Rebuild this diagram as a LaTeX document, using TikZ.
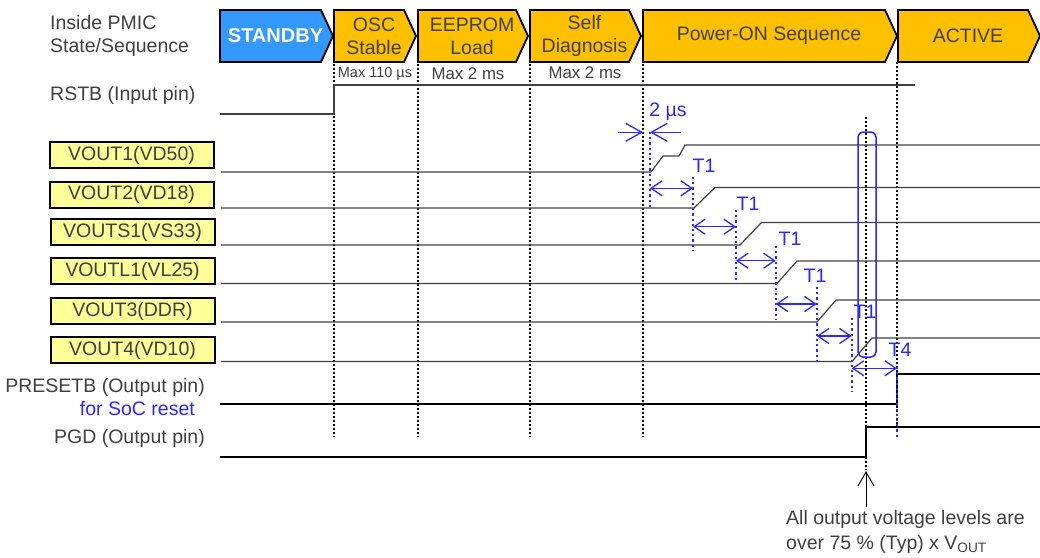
\documentclass[tikz,border=0pt]{standalone}
\usepackage{fontspec}
\setmainfont{Liberation Sans}
\usetikzlibrary{arrows.meta}
\definecolor{stbyblue}{RGB}{51,153,255}
\definecolor{seqorange}{RGB}{255,192,0}
\definecolor{railyellow}{RGB}{255,255,153}
\definecolor{txtgray}{RGB}{64,64,64}
\definecolor{tblue}{RGB}{40,40,255}
\tikzset{
  phase/.style={draw=black,line width=1.8pt,line join=miter},
  lbl/.style={font=\fontsize{19.5}{23}\selectfont,text=txtgray,inner sep=0pt},
  railbox/.style={lbl,draw=black,line width=2pt,fill=railyellow,minimum width=164pt,minimum height=26pt},
  sig/.style={txtgray,line width=1.2pt},
  boldsig/.style={black,line width=2.5pt},
  kdot/.style={black,line width=1.8pt,dash pattern=on 1.8pt off 2.2pt},
  bdot/.style={tblue,line width=2.2pt,dash pattern=on 2.2pt off 3pt},
  tarr/.style={tblue,line width=1.3pt,{Straight Barb[length=11pt,width=15pt]}-{Straight Barb[length=11pt,width=15pt]}},
  tlbl/.style={lbl,text=tblue},
}
% phase banner: name, left x, tip x, fill, text
\newcommand\phasebox[5]{%
  \draw[phase,fill=#4] (#2,10) -- (#3-12,10) -- (#3,36) -- (#3-12,62) -- (#2,62) -- cycle;
  \node[lbl,align=center] (#1) at ({(#2+#3)/2-1},36) {#5};}
\begin{document}
\begin{tikzpicture}[x=1pt,y=-1pt]
  \useasboundingbox (0,0) rectangle (1040,557);
  % state / sequence row
  \node[lbl,anchor=west,align=left] (pmic) at (50,36) {Inside PMIC\\State/Sequence};
  \phasebox{standby}{220}{333}{stbyblue}{\textcolor{white}{\fontsize{20}{23}\selectfont\bfseries STANDBY}}
  \phasebox{osc}{334}{416}{seqorange}{OSC\\Stable}
  \phasebox{eeprom}{418}{528}{seqorange}{EEPROM\\Load}
  \phasebox{diag}{530}{641}{seqorange}{Self\\Diagnosis}
  \phasebox{poweron}{643}{897}{seqorange}{Power-ON Sequence}
  \phasebox{active}{898}{1040}{seqorange}{ACTIVE}
  \node[lbl,font=\fontsize{14.5}{16}\selectfont] (tosc) at (375,74) {Max 110 µs};
  \node[lbl,font=\fontsize{16.8}{18}\selectfont] (teep) at (468,74) {Max 2 ms};
  \node[lbl,font=\fontsize{16.8}{18}\selectfont] (tdiag) at (585,73) {Max 2 ms};
  % phase borders
  \foreach \xx in {334,418,530,643} \draw[kdot] (\xx,64) -- (\xx,437);
  \draw[kdot] (897,62) -- (897,432);
  \draw[kdot] (866,117) -- (866,470);
  % input
  \node[lbl,anchor=west] (rstb) at (50,95) {RSTB (Input pin)};
  \draw[sig] (220,114) -- (334,114) -- (334,85) -- (915,85);
  % rails
  \node[railbox] (vd50) at (131.5,155) {VOUT1(VD50)};
  \node[railbox] (vd18) at (131.5,194.5) {VOUT2(VD18)};
  \node[railbox] (vs33) at (132.5,232) {VOUTS1(VS33)};
  \node[railbox] (vl25) at (132.5,271) {VOUTL1(VL25)};
  \node[railbox] (ddr) at (132.5,311) {VOUT3(DDR)};
  \node[railbox] (vd10) at (132.5,350) {VOUT4(VD10)};
  \draw[sig] (221,172) -- (651,172) -- (663,156) -- (679,156) -- (685,145) -- (1040,145);
  \draw[sig] (221,208) -- (694,208) -- (715,187.5) -- (1040,187.5);
  \draw[sig] (221,245) -- (740,245) -- (761.5,222.5) -- (1040,222.5);
  \draw[sig] (221,283.5) -- (777,283.5) -- (797,261) -- (1040,261);
  \draw[sig] (221,322) -- (817,322) -- (836,300) -- (1040,300);
  \draw[sig] (221,361.5) -- (852,361.5) -- (872,338) -- (1040,338);
  % outputs
  \node[lbl,anchor=east] (presetb) at (205,387) {PRESETB (Output pin)};
  \node[tlbl,anchor=east] (socrst) at (195,409) {for SoC reset};
  \node[lbl,anchor=east] (pgd) at (205,438) {PGD (Output pin)};
  \draw[boldsig] (220,404) -- (897,404) -- (897,374) -- (1040,374);
  \draw[boldsig] (220,457) -- (866,457) -- (866,427) -- (1040,427);
  % timing marks
  \foreach \xx/\ya/\yb in {650/132/207, 693/177/250, 736/210/284, 775.7/246/320,
                           816.7/287/361, 851.7/318/392, 897/367/437}
    \draw[bdot] (\xx,\ya) -- (\xx,\yb);
  \draw[tblue,line width=1.3pt,-{Straight Barb[length=16pt,width=18pt]}] (618,132.3) -- (643,132.3);
  \draw[tblue,line width=1.3pt,-{Straight Barb[length=16pt,width=18pt]}] (681,132.3) -- (650,132.3);
  \node[tlbl] (t2us) at (668,112) {2 µs};
  \foreach \xa/\xb/\yy/\tx/\ty/\tl in {650/693/188.3/704/166/T1, 693/736/226.7/748/204/T1,
      736/775.7/260.7/790/239/T1, 775.7/816.7/304/815/276/T1,
      816.7/851.7/336/865/312/T1, 851.7/897/368.3/900/350/T4}
  {
    \draw[tarr] (\xa,\yy) -- (\xb,\yy);
    \node[tlbl] (t-\tx) at (\tx,\ty) {\tl};
  }
  \draw[tblue,line width=1.5pt,rounded corners=5pt] (858,132) rectangle (876,357);
  % note
  \draw[black,line width=1pt,-{Straight Barb[length=14pt,width=16pt]}] (866,507) -- (866,471);
  \node[lbl,anchor=west,align=left,font=\fontsize{19.5}{25}\selectfont] (note) at (786,532)
    {All output voltage levels are\\over 75 \% (Typ) x V\textsubscript{OUT}};
\end{tikzpicture}
\end{document}
